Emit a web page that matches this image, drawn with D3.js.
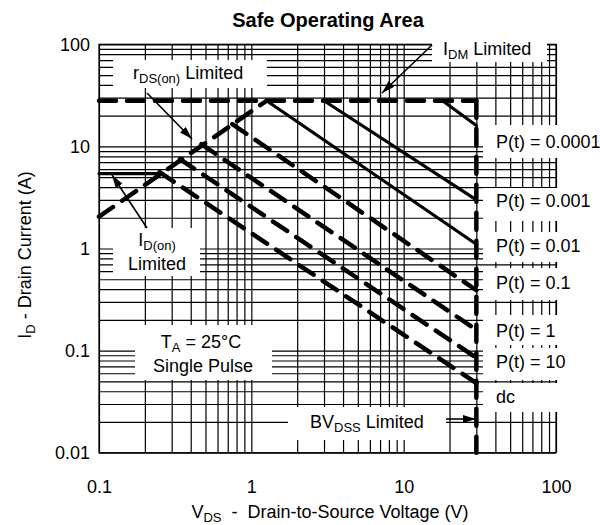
<!DOCTYPE html>
<html>
<head>
<meta charset="utf-8">
<script src="https://cdn.jsdelivr.net/npm/d3@7"></script>
<style>
  body { margin: 0; background: #fff; }
  svg { font-family: "Liberation Sans", Arial, sans-serif; }
  text { white-space: pre; }
</style>
</head>
<body>
<div id="chart"></div>
<script>
// axis ticks
const vdsTicks = [0.1, 1, 10, 100];
const idTicks = [0.01, 0.1, 1, 10, 100];

// limit boundaries, [V, A]
const idmLimit = [[0.1, 28], [30, 28]];
const rdsLimit = [[0.1, 2.05], [1.26, 28]];
const idOnLimit = [[0.1, 5.4], [0.24, 5.4]];
const bvdssLimit = [[30, 28], [30, 0.01]];

// single pulse lines, start and end, [V, A]
const pulseNames = ["0.0001", "0.001", "0.01", "0.1", "1", "10", "dc"];
const pulseStart = [[18, 28], [3.0, 28], [1.26, 28], [0.75, 16.5], [0.47, 10.5], [0.34, 7.5], [0.25, 5.6]];
const pulseEnd = [[30, 16], [30, 3.0], [30, 1.1], [30, 0.39], [30, 0.16], [30, 0.085], [30, 0.048]];


// dimensions
const w = 600;
const h = 525;
const padLeft = 99;
const padRight = 556;
const padTop = 44.3;
const padBot = 452.7;
const font = 18;
const subFont = 13;
const subShift = 4;

const svg = d3.select("#chart")
  .append("svg")
  .attr("width", w)
  .attr("height", h);

const x = d3.scaleLog().domain([0.1, 100]).range([padLeft, padRight]);
const y = d3.scaleLog().domain([0.01, 100]).range([padBot, padTop]);

// GRID
const gridX = svg.append("g")
  .attr("transform", `translate(0, ${padBot})`)
  .call(d3.axisBottom(x).tickSize(-(padBot - padTop)).tickFormat(""));
const gridY = svg.append("g")
  .attr("transform", `translate(${padLeft}, 0)`)
  .call(d3.axisLeft(y).tickSize(-(padRight - padLeft)).tickFormat(""));
[gridX, gridY].forEach(g => {
  g.select(".domain").remove();
  g.selectAll("line").attr("stroke", "#000").attr("stroke-width", 1.2);
});
svg.append("rect")
  .attr("x", padLeft).attr("y", padTop)
  .attr("width", padRight - padLeft).attr("height", padBot - padTop)
  .attr("fill", "none").attr("stroke", "#000").attr("stroke-width", 1.2);

// white label boxes that hide the grid: [x0, y0, x1, y1]
const boxes = [
  [113, 60, 267, 88], [432, 28, 547, 62], [113, 228, 200, 276],
  [135, 325, 272, 380], [288, 407, 446, 440],
  [483, 125, 600, 158], [483, 188, 600, 221], [483, 232, 600, 262],
  [483, 268, 600, 300], [483, 315, 600, 345], [483, 348, 600, 380],
  [483, 383, 600, 412]
];
svg.append("g").selectAll("rect")
  .data(boxes)
  .enter()
  .append("rect")
  .attr("x", d => d[0]).attr("y", d => d[1])
  .attr("width", d => d[2] - d[0]).attr("height", d => d[3] - d[1])
  .attr("fill", "#fff");

// tick labels
const yLabels = svg.append("g")
  .attr("transform", `translate(${padLeft}, 0)`)
  .call(d3.axisLeft(y).tickValues(idTicks).tickFormat(d3.format("~g")).tickSize(0).tickPadding(9));
const xLabels = svg.append("g")
  .attr("transform", `translate(0, ${padBot})`)
  .call(d3.axisBottom(x).tickValues(vdsTicks).tickFormat(d3.format("~g")).tickSize(0).tickPadding(27.6));
[yLabels, xLabels].forEach(g => {
  g.select(".domain").remove();
  g.attr("font-family", null).attr("font-size", font);
  g.selectAll("text").attr("fill", "#000");
});

// LINES
const line = d3.line().x(d => x(d[0])).y(d => y(d[1]));
const dash = "17,11";

function drawLine(pts, dashed, width) {
  svg.append("path")
    .attr("d", line(pts))
    .attr("fill", "none")
    .attr("stroke", "#000")
    .attr("stroke-width", width)
    .attr("stroke-linecap", "round")
    .attr("stroke-dasharray", dashed ? dash : null);
}

drawLine(idOnLimit, false, 3.2);
drawLine(rdsLimit, true, 4.5);
drawLine(idmLimit, true, 4.5);
drawLine(bvdssLimit, true, 4.5);
pulseNames.forEach((name, i) => {
  drawLine([pulseStart[i], pulseEnd[i]], i >= 3, i >= 3 ? 4.5 : 3.2);
});

// TEXT
// parts: [text, isSubscript]
function richText(px, py, parts, anchor) {
  const t = svg.append("text")
    .attr("x", px).attr("y", py)
    .attr("font-size", font)
    .attr("text-anchor", anchor || "start")
    .attr("fill", "#000");
  let shifted = false;
  parts.forEach(p => {
    const s = t.append("tspan").text(p[0]);
    if (p[1]) {
      s.attr("font-size", subFont).attr("dy", subShift);
      shifted = true;
    } else if (shifted) {
      s.attr("dy", -subShift);
      shifted = false;
    }
  });
  return t;
}

svg.append("text")
  .attr("x", 328).attr("y", 27)
  .attr("text-anchor", "middle")
  .attr("font-size", 20)
  .attr("font-weight", "bold")
  .text("Safe Operating Area");

richText(330, 518, [["V"], ["DS", true], ["  -  Drain-to-Source Voltage (V)"]], "middle");
richText(0, 0, [["I"], ["D", true], [" - Drain Current (A)"]], "middle")
  .attr("transform", "translate(31, 255) rotate(-90)");

richText(133, 79, [["r"], ["DS(on)", true], [" Limited"]]);
richText(443, 55, [["I"], ["DM", true], [" Limited"]]);
richText(157, 246, [["I"], ["D(on)", true]], "middle");
richText(157, 270, [["Limited"]], "middle");
richText(201, 348, [["T"], ["A", true], [" = 25°C"]], "middle");
richText(203, 372, [["Single Pulse"]], "middle");
richText(310, 428, [["BV"], ["DSS", true], [" Limited"]]);

const pulseLabelY = [148, 207, 252, 289, 337, 368, 403];
pulseNames.forEach((name, i) => {
  richText(496, pulseLabelY[i], [[name === "dc" ? "dc" : `P(t) = ${name}`]]);
});

// ARROWS
svg.append("defs").append("marker")
  .attr("id", "arrow")
  .attr("viewBox", "0 0 13 8")
  .attr("refX", 13).attr("refY", 4)
  .attr("markerWidth", 13).attr("markerHeight", 8)
  .attr("markerUnits", "userSpaceOnUse")
  .attr("orient", "auto")
  .append("path")
  .attr("d", "M0,0L13,4L0,8Z")
  .attr("fill", "#000");

const arrows = [
  [[147, 93], [192, 139]],
  [[432, 45], [382, 93]],
  [[147, 228], [112, 175]],
  [[446, 419], [476, 419]]
];
svg.append("g").selectAll("line")
  .data(arrows)
  .enter()
  .append("line")
  .attr("x1", d => d[0][0]).attr("y1", d => d[0][1])
  .attr("x2", d => d[1][0]).attr("y2", d => d[1][1])
  .attr("stroke", "#000")
  .attr("stroke-width", 1.6)
  .attr("marker-end", "url(#arrow)");
</script>
</body>
</html>
